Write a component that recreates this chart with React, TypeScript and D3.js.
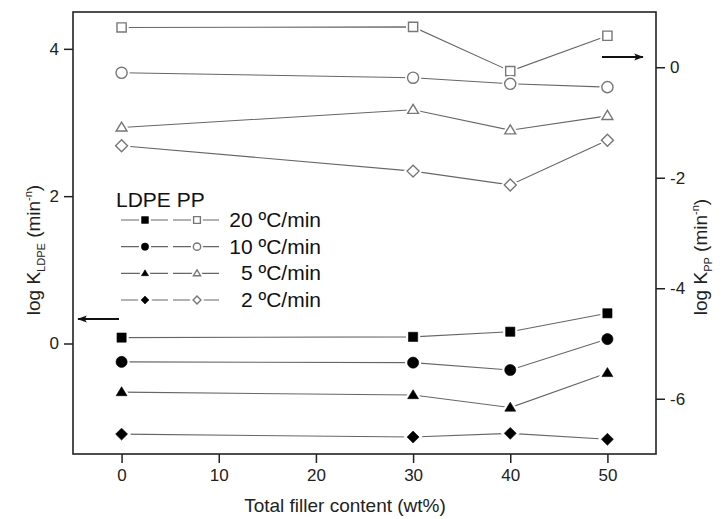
import { useEffect, useRef } from 'react';
import * as d3 from 'd3';

const FILLER = [0, 30, 40, 50];
const RATES = ['20 ºC/min', '10 ºC/min', '5 ºC/min', '2 ºC/min'];
const SHAPES = ['square', 'circle', 'triangle', 'diamond'];

// log K for LDPE (left axis)
const LDPE_20 = [0.08, 0.09, 0.16, 0.41];
const LDPE_10 = [-0.25, -0.26, -0.36, 0.06];
const LDPE_5 = [-0.66, -0.7, -0.87, -0.4];
const LDPE_2 = [-1.23, -1.27, -1.22, -1.3];

// log K for PP (right axis)
const PP_20 = [0.72, 0.73, -0.07, 0.57];
const PP_10 = [-0.1, -0.19, -0.3, -0.36];
const PP_5 = [-1.09, -0.77, -1.14, -0.88];
const PP_2 = [-1.42, -1.88, -2.13, -1.32];

const X_TICKS = [0, 10, 20, 30, 40, 50];
const LEFT_TICKS = [0, 2, 4];
const RIGHT_TICKS = [0, -2, -4, -6];

const FONT = '"Liberation Sans", Arial, sans-serif';

// r = half-width of the symbol
const symbolPath = (shape: string, r: number) => {
  if (shape === 'diamond') {
    const q = r * 1.15;
    return `M0,${-q}L${q},0L0,${q}L${-q},0Z`;
  }
  if (shape === 'square') return `M${-r},${-r}H${r}V${r}H${-r}Z`;
  if (shape === 'triangle') {
    const h = r * 1.73;
    return `M0,${-h * 0.6}L${r * 1.05},${h * 0.4}L${-r * 1.05},${h * 0.4}Z`;
  }
  return d3.symbol().type(d3.symbolCircle).size(Math.PI * r * r * 1.15)() as string;
};

const App = () => {
  const svgRef = useRef<SVGSVGElement>(null);

  useEffect(() => {
    const width = 724;
    const height = 519;
    const m = { left: 73, right: 656, top: 12, bottom: 454 };

    const svg = d3.select(svgRef.current);
    svg.selectAll('*').remove();
    svg.attr('width', width).attr('height', height).style('font-family', FONT);

    const x = d3.scaleLinear().domain([-5, 55]).range([m.left, m.right]);
    const yL = d3.scaleLinear().domain([-1.5, 4.5]).range([m.bottom, m.top]);
    const yR = d3.scaleLinear().domain([-7, 1]).range([m.bottom, m.top]);

    svg.append('rect').attr('width', width).attr('height', height).attr('fill', '#fff');

    // axes
    const xAxis = svg.append('g').attr('transform', `translate(0,${m.bottom})`)
      .call(d3.axisBottom(x).tickValues(X_TICKS).tickSize(9).tickPadding(6).tickFormat(d3.format('d')));
    const lAxis = svg.append('g').attr('transform', `translate(${m.left},0)`)
      .call(d3.axisLeft(yL).tickValues(LEFT_TICKS).tickSize(9).tickPadding(5).tickFormat(d3.format('d')));
    const rAxis = svg.append('g').attr('transform', `translate(${m.right},0)`)
      .call(d3.axisRight(yR).tickValues(RIGHT_TICKS).tickSize(9).tickPadding(5).tickFormat(d3.format('d')));

    [xAxis, lAxis, rAxis].forEach(a => {
      a.select('.domain').remove();
      a.selectAll('line').attr('stroke', '#222').attr('stroke-width', 1.5);
      a.selectAll('text').attr('font-size', 17).attr('fill', '#222').style('font-family', FONT);
    });
    rAxis.selectAll('text').text((d: any) => (d === 0 ? '0' : `-${Math.abs(d)}`));

    svg.append('rect')
      .attr('x', m.left).attr('y', m.top)
      .attr('width', m.right - m.left).attr('height', m.bottom - m.top)
      .attr('fill', 'none').attr('stroke', '#222').attr('stroke-width', 1.6);

    const line = (yS: d3.ScaleLinear<number, number>) =>
      d3.line<number>().x((_, i) => x(FILLER[i])).y(d => yS(d));

    const ldpe = [LDPE_20, LDPE_10, LDPE_5, LDPE_2];
    const pp = [PP_20, PP_10, PP_5, PP_2];

    const drawSymbol = (cx: number, cy: number, shape: string, r: number, filled: boolean) => {
      const tr = `translate(${cx},${cy})`;
      svg.append('path').attr('d', symbolPath(shape, r)).attr('transform', tr)
        .attr('fill', '#fff').attr('stroke', '#fff').attr('stroke-width', 5);
      svg.append('path').attr('d', symbolPath(shape, r)).attr('transform', tr)
        .attr('fill', filled ? '#000' : '#fff')
        .attr('stroke', filled ? '#000' : '#777')
        .attr('stroke-width', filled ? 0.6 : 1.4);
    };

    const drawSeries = (vals: number[], yS: d3.ScaleLinear<number, number>, shape: string, filled: boolean) => {
      svg.append('path').attr('d', line(yS)(vals)).attr('fill', 'none')
        .attr('stroke', '#666').attr('stroke-width', 1.1);
      const r = shape === 'square' ? 4.6 : shape === 'circle' ? 5.2 : 5.2;
      vals.forEach((v, i) => drawSymbol(x(FILLER[i]), yS(v), shape, r, filled));
    };

    ldpe.forEach((s, k) => drawSeries(s, yL, SHAPES[k], true));
    pp.forEach((s, k) => drawSeries(s, yR, SHAPES[k], false));

    // arrows
    const defs = svg.append('defs');
    defs.append('marker').attr('id', 'arr').attr('viewBox', '0 0 12 10')
      .attr('refX', 11).attr('refY', 5).attr('markerWidth', 12).attr('markerHeight', 8)
      .attr('markerUnits', 'userSpaceOnUse').attr('orient', 'auto')
      .append('path').attr('d', 'M0,0.5 L12,5 L0,9.5 L2.5,5 Z').attr('fill', '#111');
    svg.append('line').attr('x1', 119).attr('y1', 319).attr('x2', 78).attr('y2', 319)
      .attr('stroke', '#111').attr('stroke-width', 1.8).attr('marker-end', 'url(#arr)');
    svg.append('line').attr('x1', 602).attr('y1', 57).attr('x2', 643).attr('y2', 57)
      .attr('stroke', '#111').attr('stroke-width', 1.8).attr('marker-end', 'url(#arr)');

    // legend
    svg.append('text').attr('x', 116).attr('y', 207).attr('font-size', 21).attr('fill', '#111')
      .text('LDPE  PP');
    const rowY = d3.scaleLinear().domain([0, 3]).range([220, 300]);
    RATES.forEach((label, k) => {
      const yy = rowY(k);
      svg.append('line').attr('x1', 121).attr('x2', 168).attr('y1', yy).attr('y2', yy)
        .attr('stroke', '#666').attr('stroke-width', 1.1);
      svg.append('line').attr('x1', 173).attr('x2', 219).attr('y1', yy).attr('y2', yy)
        .attr('stroke', '#666').attr('stroke-width', 1.1);
      drawSymbol(145, yy, SHAPES[k], 3.4, true);
      drawSymbol(197, yy, SHAPES[k], 3.4, false);
      svg.append('text').attr('x', 321).attr('y', yy + 7).attr('text-anchor', 'end')
        .attr('font-size', 21).attr('fill', '#111').text(label);
    });

    // axis titles
    const lt = svg.append('text').attr('transform', 'translate(40,250) rotate(-90)')
      .attr('text-anchor', 'middle').attr('font-size', 19).attr('fill', '#222');
    lt.append('tspan').text('log K');
    lt.append('tspan').attr('font-size', 11).attr('dy', 5).text('LDPE');
    lt.append('tspan').attr('dy', -5).text(' (min');
    lt.append('tspan').attr('font-size', 11).attr('dy', -8).text('-n');
    lt.append('tspan').attr('dy', 8).text(')');

    const rt = svg.append('text').attr('transform', 'translate(707,257) rotate(-90)')
      .attr('text-anchor', 'middle').attr('font-size', 19).attr('fill', '#222');
    rt.append('tspan').text('log K');
    rt.append('tspan').attr('font-size', 11).attr('dy', 5).text('PP');
    rt.append('tspan').attr('dy', -5).text(' (min');
    rt.append('tspan').attr('font-size', 11).attr('dy', -8).text('-n');
    rt.append('tspan').attr('dy', 8).text(')');

    svg.append('text').attr('x', 345).attr('y', 512).attr('text-anchor', 'middle')
      .attr('font-size', 19).attr('fill', '#222').text('Total filler content (wt%)');
  }, []);

  return <svg ref={svgRef} style={{ display: 'block', position: 'absolute', left: 0, top: 0 }} />;
};

export default App;
